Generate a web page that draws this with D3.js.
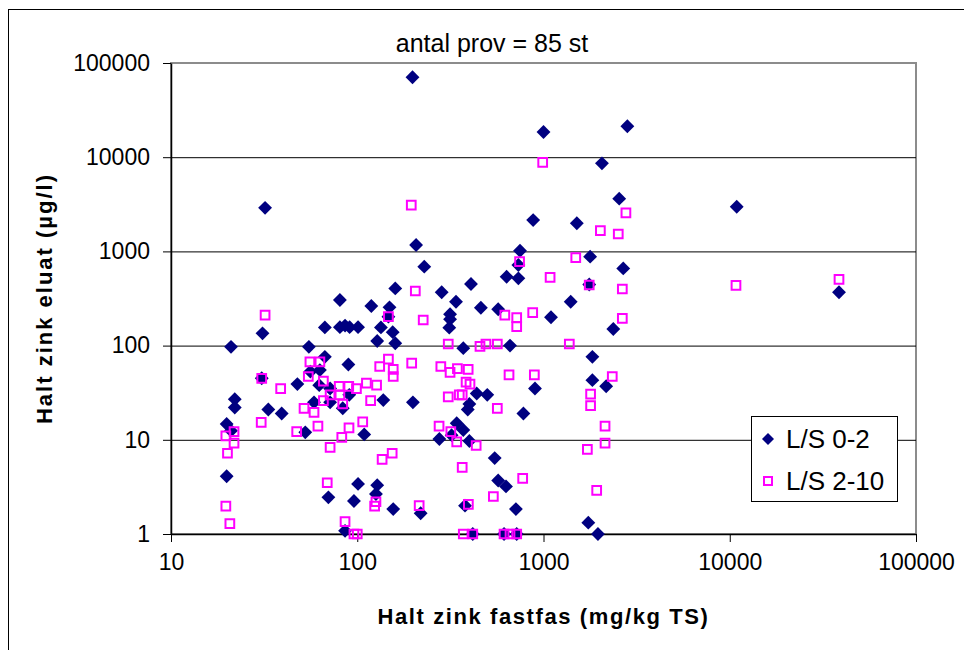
<!DOCTYPE html>
<html>
<head>
<meta charset="utf-8">
<script src="https://cdn.jsdelivr.net/npm/d3@7"></script>
<style>
  html, body { margin: 0; padding: 0; background: #fff; }
  svg { display: block; font-family: "Liberation Sans", Arial, sans-serif; }
</style>
</head>
<body>
<svg id="chart" width="964" height="650"></svg>
<script>
// ---------- data ----------
const chartTitle = "antal prov = 85 st";
const xTitle = "Halt zink fastfas (mg/kg TS)";
const yTitle = "Halt zink eluat (µg/l)";
const seriesNames = ["L/S 0-2", "L/S 2-10"];
const xTicks = [10, 100, 1000, 10000, 100000];
const yTicks = [1, 10, 100, 1000, 10000, 100000];

// L/S 0-2 : [fastfas mg/kg TS, eluat µg/l]
const ls02 = [
  [198, 70500], [1000, 18500], [2820, 21300], [2060, 8600], [2550, 3630],
  [880, 2150], [1510, 1990], [10900, 2980], [38600, 368], [32, 2900],
  [207, 1170], [229, 689], [160, 405], [284, 368], [339, 292],
  [80.7, 305], [119, 263], [149, 255], [147, 203], [31, 135],
  [21, 97], [67, 156], [80.7, 157], [86, 163], [91, 157],
  [101, 157], [134, 156], [155, 139], [128, 112], [160, 106],
  [315, 215], [315, 190], [312, 155], [55, 97], [67, 76],
  [89.6, 63], [56, 53], [63, 55], [30.7, 45], [47.7, 39],
  [748, 1016], [733, 718], [1780, 879], [2680, 660], [634, 538],
  [733, 518], [408, 451], [1760, 445], [461, 252], [571, 243],
  [1400, 292], [1097, 200], [2370, 150], [371, 94], [661, 100],
  [1830, 76], [1830, 43], [2170, 37], [900, 35], [438, 31],
  [499, 30], [400, 24], [392, 21], [780, 19], [342, 15],
  [371, 12.7], [276, 10.2], [321, 11.2], [400, 9.7], [547, 6.4],
  [571, 3.7], [629, 3.2], [219, 1.66], [379, 2.0], [711, 1.84],
  [1740, 1.32], [1960, 1.0], [417, 1.0], [614, 1.0], [718, 1.0],
  [62.5, 38], [71.5, 35], [22, 27], [22, 22], [33.3, 21],
  [39.3, 19], [58.6, 25], [71.5, 25], [90.6, 30], [83.6, 21.6],
  [138, 26.4], [199, 25], [19.9, 14.7], [21, 12.5], [52.6, 12],
  [109, 11.4], [19.9, 4.1], [101, 3.4], [128, 3.3], [126, 2.66],
  [70, 2.45], [96, 2.24], [156, 1.84], [86, 1.08]
];

// L/S 2-10 : [fastfas mg/kg TS, eluat µg/l]
const ls210 = [
  [195, 3100], [990, 8830], [2770, 2560], [2020, 1660], [2520, 1530],
  [10800, 437], [38600, 506], [205, 380], [147, 203], [32, 211],
  [308, 104], [55.7, 67], [63, 67], [54.6, 47], [30.7, 45],
  [65.8, 42], [38.8, 35], [744, 778], [1490, 857], [1085, 530],
  [1760, 440], [2650, 399], [620, 211], [718, 198], [718, 159],
  [875, 224], [2650, 195], [226, 187], [456, 98], [491, 104],
  [565, 104], [1376, 104], [196, 65], [281, 60], [315, 52],
  [345, 57], [394, 56], [384, 41], [403, 39], [653, 49],
  [893, 49], [2340, 47], [1790, 30.6], [1790, 23], [366, 30],
  [565, 21.6], [275, 14], [318, 12.2], [342, 9.5], [435, 8.7],
  [2140, 14], [2140, 9.2], [1720, 7.9], [366, 5.1], [773, 3.9],
  [538, 2.5], [1930, 2.9], [215, 2.0], [395, 2.06], [371, 1.0],
  [417, 1.0], [614, 1.0], [661, 1.0], [718, 1.0], [80, 37],
  [90, 37], [99, 35], [112, 40], [127, 38], [65.8, 26],
  [71.5, 30], [80.7, 30], [83.6, 24], [118, 26], [308, 28.6],
  [353, 30], [51.8, 21.6], [58.6, 19.6], [21.8, 12.2], [19.7, 11],
  [21.8, 9.2], [20.1, 7.2], [30.5, 15.3], [47.3, 12.2], [61.5, 14],
  [90.3, 13.4], [107, 15.5], [82.6, 10.6], [71.5, 8.3], [136, 6.2],
  [154, 7.2], [69, 3.5], [126, 2.2], [124, 1.98], [19.7, 1.98],
  [20.7, 1.29], [86, 1.35], [96, 1.0], [100, 1.0], [147, 72],
  [132, 60], [156, 56], [156, 47]
];

// ---------- layout ----------
const W = 964, H = 650;
const plot = { left: 171, right: 916, top: 63, bottom: 534 };
const navy = "#000080", magenta = "#FF00FF";

const svg = d3.select("#chart");

// outer chart-area border (left & top visible)
svg.append("rect")
  .attr("x", 8.5).attr("y", 9.5)
  .attr("width", W + 20).attr("height", H + 20)
  .attr("fill", "#fff").attr("stroke", "#000").attr("stroke-width", 1);

const x = d3.scaleLog().domain([10, 100000]).range([plot.left, plot.right]);
const y = d3.scaleLog().domain([1, 100000]).range([plot.bottom, plot.top]);

// plot-area frame (gray top/right)
svg.append("rect")
  .attr("x", plot.left).attr("y", plot.top)
  .attr("width", plot.right - plot.left).attr("height", plot.bottom - plot.top)
  .attr("fill", "#fff").attr("stroke", "#8c8c8c").attr("stroke-width", 2);

// horizontal gridlines
const grid = svg.append("g")
  .attr("transform", `translate(${plot.left},0)`)
  .call(d3.axisLeft(y).tickValues(yTicks.slice(1, -1))
    .tickSize(-(plot.right - plot.left)).tickFormat(""));
grid.select(".domain").remove();
grid.selectAll(".tick line").attr("stroke", "#000").attr("stroke-width", 1);

// y axis
const yAxis = svg.append("g")
  .attr("transform", `translate(${plot.left},0)`)
  .call(d3.axisLeft(y).tickValues(yTicks).tickFormat(d3.format("d"))
    .tickSize(8).tickSizeOuter(0).tickPadding(13));
yAxis.select(".domain").attr("stroke", "#000").attr("stroke-width", 1.5);
yAxis.selectAll(".tick line").attr("stroke", "#000");
yAxis.selectAll(".tick text")
  .attr("font-size", 23).attr("fill", "#000")
  .attr("font-family", "Liberation Sans, Arial, sans-serif");

// x axis
const xAxis = svg.append("g")
  .attr("transform", `translate(0,${plot.bottom})`)
  .call(d3.axisBottom(x).tickValues(xTicks).tickFormat(d3.format("d"))
    .tickSize(8).tickSizeOuter(0).tickPadding(12));
xAxis.select(".domain").attr("stroke", "#000").attr("stroke-width", 1.5);
xAxis.selectAll(".tick line").attr("stroke", "#000");
xAxis.selectAll(".tick text")
  .attr("font-size", 23).attr("fill", "#000")
  .attr("font-family", "Liberation Sans, Arial, sans-serif");

// markers
const diamondPath = d3.symbol().type(d3.symbolSquare).size(96)();
const squarePath = d3.symbol().type(d3.symbolSquare).size(76)();

svg.append("g").selectAll("path").data(ls02).join("path")
  .attr("d", diamondPath)
  .attr("transform", d => `translate(${x(d[0])},${y(d[1])}) rotate(45)`)
  .attr("fill", navy);

svg.append("g").selectAll("path").data(ls210).join("path")
  .attr("d", squarePath)
  .attr("transform", d => `translate(${x(d[0])},${y(d[1])})`)
  .attr("fill", "none").attr("stroke", magenta).attr("stroke-width", 2);

// title
svg.append("text")
  .attr("x", 492).attr("y", 52)
  .attr("text-anchor", "middle").attr("font-size", 25)
  .text(chartTitle);

// axis titles
svg.append("text")
  .attr("x", (plot.left + plot.right) / 2).attr("y", 624)
  .attr("text-anchor", "middle").attr("font-size", 22).attr("font-weight", "bold")
  .attr("letter-spacing", 1.6)
  .text(xTitle);

svg.append("text")
  .attr("transform", `translate(52,${(plot.top + plot.bottom) / 2}) rotate(-90)`)
  .attr("text-anchor", "middle").attr("font-size", 22).attr("font-weight", "bold")
  .attr("letter-spacing", 2)
  .text(yTitle);

// legend
const lg = svg.append("g").attr("transform", "translate(751,416)");
lg.append("rect").attr("x", 0.5).attr("y", 0.5).attr("width", 146).attr("height", 85)
  .attr("fill", "#fff").attr("stroke", "#000").attr("stroke-width", 1);
const legendItems = [
  { name: seriesNames[0], kind: "diamond" },
  { name: seriesNames[1], kind: "square" }
];
legendItems.forEach((it, i) => {
  const cy = 23 + i * 42;
  if (it.kind === "diamond") {
    lg.append("path").attr("d", d3.symbol().type(d3.symbolSquare).size(72)())
      .attr("transform", `translate(17,${cy}) rotate(45)`).attr("fill", navy);
  } else {
    lg.append("path").attr("d", d3.symbol().type(d3.symbolSquare).size(64)())
      .attr("transform", `translate(17,${cy})`)
      .attr("fill", "none").attr("stroke", magenta).attr("stroke-width", 2);
  }
  lg.append("text").attr("x", 35).attr("y", cy + 9)
    .attr("font-size", 26).text(it.name);
});
</script>
</body>
</html>
